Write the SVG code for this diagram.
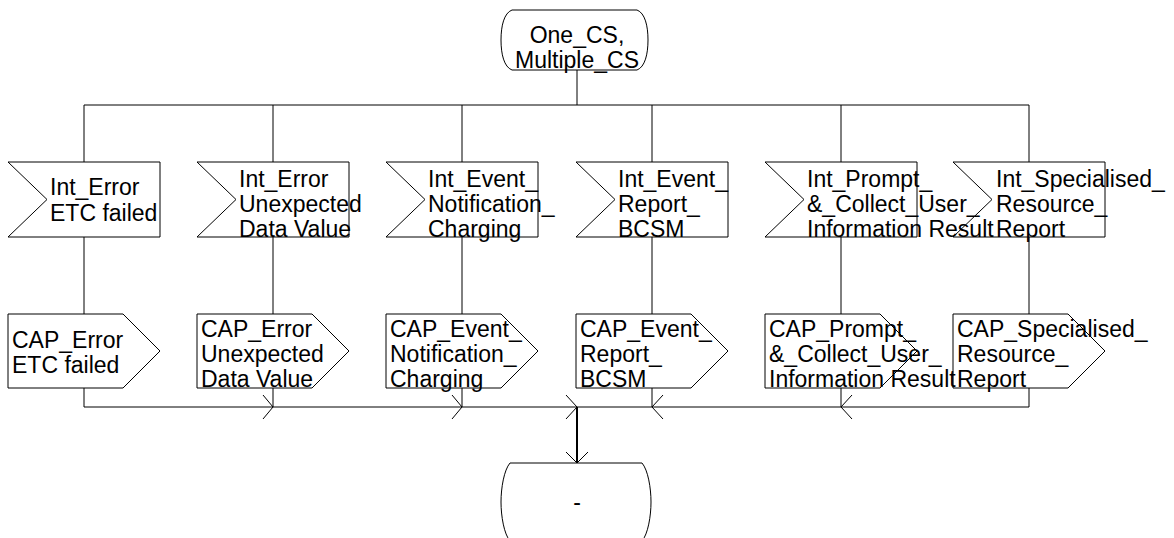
<svg xmlns="http://www.w3.org/2000/svg" width="1174" height="538" viewBox="0 0 1174 538">
<style>
.s{fill:none;stroke:#000;stroke-width:1}
.c{fill:none;stroke:#000;stroke-width:1}
.t{font-family:"Liberation Sans",Arial,sans-serif;font-size:23px;fill:#000}
.m{text-anchor:middle}
</style>
<rect width="1174" height="538" fill="#fff"/>
<g id="connectors">
<path class="c" d="M577,70 V105 M84,105 H1029 M84,105 V162 M273,105 V162 M462,105 V162 M652,105 V162 M841,105 V162 M1029,105 V162"/>
<path class="c" d="M84,237 V314 M273,237 V314 M462,237 V314 M652,237 V314 M841,237 V314 M1029,237 V314"/>
<path class="c" d="M84,388 V407 H1029 V388 M273,388 V407 M462,388 V407 M652,388 V407 M841,388 V407"/>
<path class="c" d="M263,395 L273,407 L263,419 M452,395 L462,407 L452,419 M566,395 L577,407 L566,419 M663,395 L652,407 L663,419 M852,395 L841,407 L852,419"/>
<path fill="none" stroke="#000" stroke-width="2" d="M577,407 V463"/>
<path class="c" d="M566,452 L577,463 L588,452"/>
</g>
<g id="start">
<path class="s" d="M512,10 L637,10 C645,13 648,26 648,40 C648,54 645,67 637,70 L512,70 C504,67 501,54 501,40 C501,26 504,13 512,10 Z"/>
<text class="t m" x="577" y="43">One_CS,</text>
<text class="t m" x="577" y="68">Multiple_CS</text>
</g>
<g id="in1">
<polygon class="s" points="8,162 160,162 160,237 8,237 47,199.5"/>
<text class="t" x="50" y="195">Int_Error</text>
<text class="t" x="50" y="221">ETC failed</text>
</g>
<g id="in2">
<polygon class="s" points="197,162 349,162 349,237 197,237 236,199.5"/>
<text class="t" x="239" y="187">Int_Error</text>
<text class="t" x="239" y="212">Unexpected</text>
<text class="t" x="239" y="237">Data Value</text>
</g>
<g id="in3">
<polygon class="s" points="386,162 538,162 538,237 386,237 425,199.5"/>
<text class="t" x="428" y="187">Int_Event_</text>
<text class="t" x="428" y="212">Notification_</text>
<text class="t" x="428" y="237">Charging</text>
</g>
<g id="in4">
<polygon class="s" points="576,162 728,162 728,237 576,237 615,199.5"/>
<text class="t" x="618" y="187">Int_Event_</text>
<text class="t" x="618" y="212">Report_</text>
<text class="t" x="618" y="237">BCSM</text>
</g>
<g id="in5">
<polygon class="s" points="765,162 917,162 917,237 765,237 804,199.5"/>
<text class="t" x="807" y="187">Int_Prompt_</text>
<text class="t" x="807" y="212">&amp;_Collect_User_</text>
<text class="t" x="807" y="237">Information Result</text>
</g>
<g id="in6">
<polygon class="s" points="953,162 1105,162 1105,237 953,237 992,199.5"/>
<text class="t" x="996" y="187">Int_Specialised_</text>
<text class="t" x="996" y="212">Resource_</text>
<text class="t" x="996" y="237">Report</text>
</g>
<g id="out1">
<polygon class="s" points="8,314 123,314 160,351 123,388 8,388"/>
<text class="t" x="12" y="348">CAP_Error</text>
<text class="t" x="12" y="373">ETC failed</text>
</g>
<g id="out2">
<polygon class="s" points="197,314 312,314 349,351 312,388 197,388"/>
<text class="t" x="201" y="337">CAP_Error</text>
<text class="t" x="201" y="362">Unexpected</text>
<text class="t" x="201" y="387">Data Value</text>
</g>
<g id="out3">
<polygon class="s" points="386,314 501,314 538,351 501,388 386,388"/>
<text class="t" x="390" y="337">CAP_Event_</text>
<text class="t" x="390" y="362">Notification_</text>
<text class="t" x="390" y="387">Charging</text>
</g>
<g id="out4">
<polygon class="s" points="576,314 691,314 728,351 691,388 576,388"/>
<text class="t" x="580" y="337">CAP_Event_</text>
<text class="t" x="580" y="362">Report_</text>
<text class="t" x="580" y="387">BCSM</text>
</g>
<g id="out5">
<polygon class="s" points="765,314 880,314 917,351 880,388 765,388"/>
<text class="t" x="769" y="337">CAP_Prompt_</text>
<text class="t" x="769" y="362">&amp;_Collect_User_</text>
<text class="t" x="769" y="387">Information Result</text>
</g>
<g id="out6">
<polygon class="s" points="953,314 1068,314 1105,351 1068,388 953,388"/>
<text class="t" x="957" y="337">CAP_Specialised_</text>
<text class="t" x="957" y="362">Resource_</text>
<text class="t" x="957" y="387">Report</text>
</g>
<g id="end">
<path class="s" d="M510,463 L642,463 C648,470 651,488 651,502 C651,516 648,534 642,541 L510,541 C504,534 501,516 501,502 C501,488 504,470 510,463 Z"/>
<text class="t m" x="577" y="510">-</text>
</g>
</svg>
